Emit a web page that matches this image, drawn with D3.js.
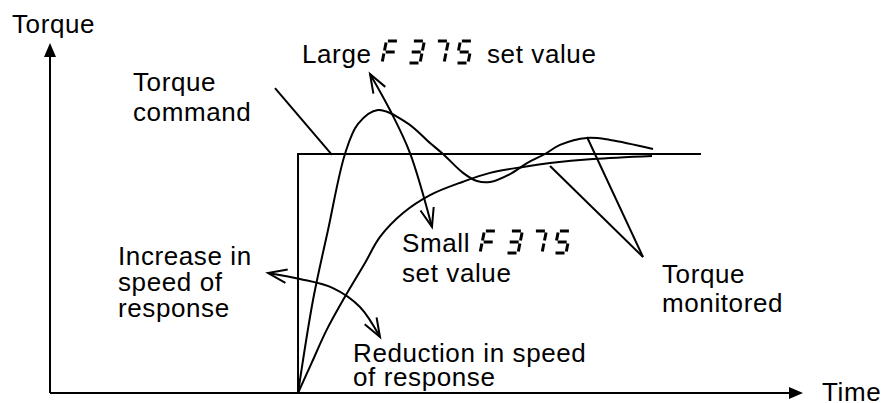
<!DOCTYPE html>
<html><head><meta charset="utf-8">
<script src="https://cdn.jsdelivr.net/npm/d3@7"></script>
<style>
html,body{margin:0;padding:0;background:#fff;}
text{font-family:"Liberation Sans",Arial,sans-serif;font-size:26px;letter-spacing:0.6px;fill:#000;}
</style></head>
<body>
<svg id="chart" width="885" height="403"></svg>
<script>
// ---- data (time units, torque units: command = 1) ----
const commandT = [33.07, 33.07, 86.8];
const commandQ = [0, 1, 1];

const fastT = [33.07, 35.07, 37.07, 39.33, 41.07, 43.73, 47.60, 50.67, 52.40, 55.07, 56.93, 58.67, 61.33, 63.60, 66.00, 68.00, 71.60, 74.67, 80.40];
const fastQ = [0, 0.389, 0.682, 1.0, 1.126, 1.184, 1.130, 1.046, 1.0, 0.921, 0.887, 0.883, 0.916, 0.962, 1.0, 1.038, 1.067, 1.059, 1.021];

const slowT = [33.07, 34.89, 36.89, 39.33, 42.00, 44.00, 47.07, 50.67, 55.07, 58.67, 63.07, 66.67, 72.40, 80.27];
const slowQ = [0, 0.126, 0.264, 0.403, 0.544, 0.653, 0.753, 0.828, 0.884, 0.921, 0.946, 0.962, 0.979, 0.992];

const axisTMax = 100.4;
const axisQMax = 1.464;

// annotation geometry (data units)
const cmdLeaderT = [30.0, 37.6], cmdLeaderQ = [1.276, 0.996];
const monALeaderT = [66.67, 79.07], monALeaderQ = [0.950, 0.569];
const monBLeaderT = [71.6, 79.07], monBLeaderQ = [1.071, 0.569];
const largeArrowT = [42.67, 45.33, 48.0, 50.93], largeArrowQ = [1.335, 1.184, 1.004, 0.695];
const speedArrowT = [29.07, 33.33, 37.73, 41.33, 44.0], speedArrowQ = [0.502, 0.477, 0.439, 0.360, 0.234];

const segCode = "F375";

// ---- scales ----
const svg = d3.select("#chart");
const x = d3.scaleLinear().domain([0, 100]).range([50, 800]);
const y = d3.scaleLinear().domain([0, 1]).range([393, 154]);

const zip = (ts, qs) => ts.map((t, i) => [t, qs[i]]);
const lineStraight = d3.line().x(d => x(d[0])).y(d => y(d[1]));
const lineSmooth = d3.line().x(d => x(d[0])).y(d => y(d[1])).curve(d3.curveCatmullRom.alpha(0.5));

const stroke = "#000";
const sw = 2;

// axes
svg.append("line").attr("x1", x(0)).attr("y1", y(0)).attr("x2", x(0)).attr("y2", y(axisQMax) + 12)
  .attr("stroke", stroke).attr("stroke-width", sw);
svg.append("path").attr("d", `M${x(0)},${y(axisQMax)} L${x(0)-6},${y(axisQMax)+14} L${x(0)+6},${y(axisQMax)+14} Z`).attr("fill", stroke);
svg.append("line").attr("x1", x(0)).attr("y1", y(0)).attr("x2", x(axisTMax) - 12).attr("y2", y(0))
  .attr("stroke", stroke).attr("stroke-width", sw);
svg.append("path").attr("d", `M${x(axisTMax)},${y(0)} L${x(axisTMax)-14},${y(0)-6} L${x(axisTMax)-14},${y(0)+6} Z`).attr("fill", stroke);

// command step
svg.append("path").attr("d", lineStraight(zip(commandT, commandQ))).attr("fill", "none").attr("stroke", stroke).attr("stroke-width", sw);
// responses
svg.append("path").attr("d", lineSmooth(zip(fastT, fastQ))).attr("fill", "none").attr("stroke", stroke).attr("stroke-width", sw);
svg.append("path").attr("d", lineSmooth(zip(slowT, slowQ))).attr("fill", "none").attr("stroke", stroke).attr("stroke-width", sw);

// leaders
[[cmdLeaderT, cmdLeaderQ], [monALeaderT, monALeaderQ], [monBLeaderT, monBLeaderQ]].forEach(([ts, qs]) => {
  svg.append("path").attr("d", lineStraight(zip(ts, qs))).attr("fill", "none").attr("stroke", stroke).attr("stroke-width", sw);
});

// double-headed curved arrows
function arrowHead(node, atEnd) {
  const L = node.getTotalLength();
  const tip = node.getPointAtLength(atEnd ? L : 0);
  const back = node.getPointAtLength(atEnd ? L - 10 : 10);
  const ang = Math.atan2(back.y - tip.y, back.x - tip.x);
  const len = 20, half = 20 * Math.PI / 180;
  const w1 = [tip.x + len * Math.cos(ang + half), tip.y + len * Math.sin(ang + half)];
  const w2 = [tip.x + len * Math.cos(ang - half), tip.y + len * Math.sin(ang - half)];
  svg.append("path").attr("d", `M${w1[0]},${w1[1]} L${tip.x},${tip.y} L${w2[0]},${w2[1]}`)
    .attr("fill", "none").attr("stroke", stroke).attr("stroke-width", sw).attr("stroke-linejoin", "miter");
}
[[largeArrowT, largeArrowQ], [speedArrowT, speedArrowQ]].forEach(([ts, qs]) => {
  const p = svg.append("path").attr("d", lineSmooth(zip(ts, qs))).attr("fill", "none").attr("stroke", stroke).attr("stroke-width", sw);
  arrowHead(p.node(), false);
  arrowHead(p.node(), true);
});

// text labels
function label(lines, x0, baselines) {
  lines.forEach((s, i) => svg.append("text").attr("x", x0).attr("y", baselines[i]).text(s));
}
label(["Torque"], 12, [33]);
label(["Time"], 822, [401]);
label(["Torque", "command"], 133, [91, 121]);
label(["Large"], 302, [63]);
label(["set value"], 487, [63]);
label(["Small", "set value"], 402, [252, 282]);
label(["Torque", "monitored"], 662, [283, 312]);
label(["Increase in", "speed of", "response"], 118, [265, 291, 317]);
label(["Reduction in speed", "of response"], 353, [362, 386]);

// seven-segment glyphs for the parameter code
const segMap = { "F": "afge", "3": "abgcd", "7": "abc", "5": "afgcd" };
function sevenSeg(code, x0, base) {
  const w = 12, h = 22, sk = 0.2, g = 1.5;
  const P = (px, py) => [x0 + px + (h - py) * sk, base - h + py];
  const segs = {
    a: [[g, 0], [w - g, 0]], b: [[w, g], [w, h / 2 - g]], c: [[w, h / 2 + g], [w, h - g]],
    d: [[g, h], [w - g, h]], e: [[0, h / 2 + g], [0, h - g]], f: [[0, g], [0, h / 2 - g]], g: [[g, h / 2], [w - g, h / 2]]
  };
  const offs = [0, 26, 50, 74];
  code.split("").forEach((ch, i) => {
    const ox = offs[i];
    segMap[ch].split("").forEach(s => {
      const [p0, p1] = segs[s];
      const a = P(p0[0] + ox, p0[1]), b = P(p1[0] + ox, p1[1]);
      svg.append("line").attr("x1", a[0]).attr("y1", a[1]).attr("x2", b[0]).attr("y2", b[1])
        .attr("stroke", stroke).attr("stroke-width", 3);
    });
  });
}
sevenSeg(segCode, 382, 63);
sevenSeg(segCode, 480, 253);
</script>
</body></html>
